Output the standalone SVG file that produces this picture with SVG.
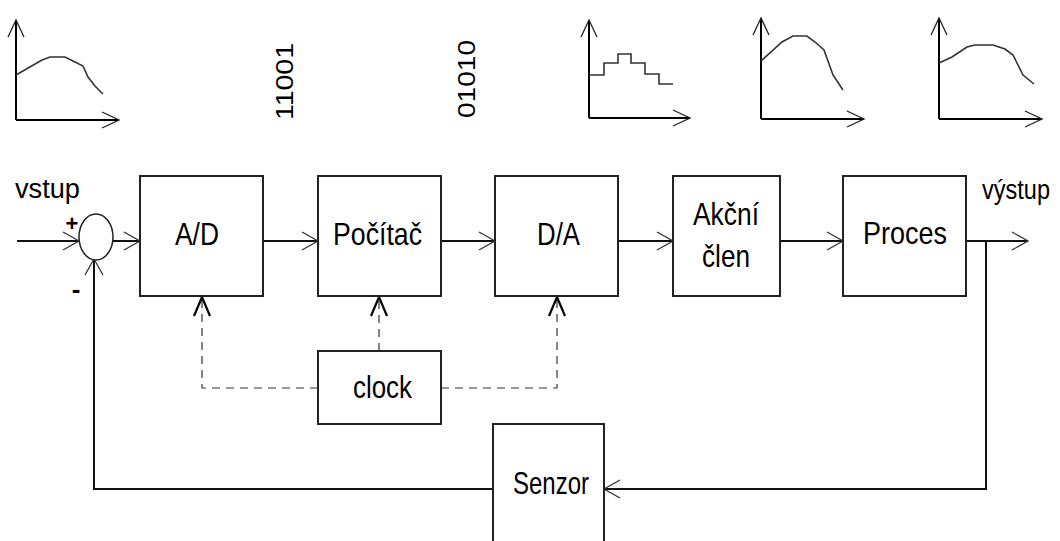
<svg xmlns="http://www.w3.org/2000/svg" width="1060" height="541" viewBox="0 0 1060 541">
<style>
.box{fill:#fff;stroke:#222;stroke-width:2}
.ln{fill:none;stroke:#111;stroke-width:2}
.dash{fill:none;stroke:#333;stroke-width:1.2;stroke-dasharray:8,6}
.ax{fill:none;stroke:#000;stroke-width:2}
.cv{fill:none;stroke:#333;stroke-width:1.6}
.lbl{font-family:"Liberation Sans",Arial,sans-serif;font-size:32px;fill:#000}
.io{font-family:"Liberation Sans",Arial,sans-serif;font-size:27px;fill:#000}
.bin{font-family:"Liberation Sans",Arial,sans-serif;font-size:24px;fill:#000}
.sg{font-family:"Liberation Sans",Arial,sans-serif;font-weight:bold;fill:#000}
</style>
<defs>
<marker id="thin" markerUnits="userSpaceOnUse" orient="auto" overflow="visible" refX="0" refY="0" markerWidth="1" markerHeight="1">
<path d="M-16,-9 L0,0 L-16,9" fill="none" stroke="#333" stroke-width="1.3"/>
</marker>
<marker id="bold" markerUnits="userSpaceOnUse" orient="auto" overflow="visible" refX="0" refY="0" markerWidth="1" markerHeight="1">
<path d="M-19,-8 L0,0 L-19,8" fill="none" stroke="#000" stroke-width="2.2"/>
</marker>
<marker id="axa" markerUnits="userSpaceOnUse" orient="auto" overflow="visible" refX="0" refY="0" markerWidth="1" markerHeight="1">
<path d="M-17,-8 L0,0 L-17,8" fill="none" stroke="#222" stroke-width="1.3"/>
</marker>
</defs>

<g id="graphs">
<g id="graph1">
<path class="ax" d="M16,120 V20" marker-end="url(#axa)"/>
<path class="ax" d="M16,120 H119" marker-end="url(#axa)"/>
<path class="cv" d="M16,75 L42,60 L50,57 L65,57 L75,62 L83,66 L88,77 L95,86 L103,94"/>
</g>
<g id="bits1"><text class="bin" transform="translate(293,120) rotate(-90)" textLength="77" lengthAdjust="spacingAndGlyphs">11001</text></g>
<g id="bits2"><text class="bin" transform="translate(475,118) rotate(-90)" textLength="78" lengthAdjust="spacingAndGlyphs">01010</text></g>
<g id="graph3">
<path class="ax" d="M589,118 V20" marker-end="url(#axa)"/>
<path class="ax" d="M589,118 H690" marker-end="url(#axa)"/>
<path class="cv" d="M589,75 H604 V63 H618 V54 H631 V63 H645 V74 H659 V84 H673"/>
</g>
<g id="graph4">
<path class="ax" d="M761,119 V18" marker-end="url(#axa)"/>
<path class="ax" d="M761,119 H864" marker-end="url(#axa)"/>
<path class="cv" d="M761,61 L782,42 L793,36 L807,36 L815,42 L824,50 L833,75 L843,90"/>
</g>
<g id="graph5">
<path class="ax" d="M939,119 V18" marker-end="url(#axa)"/>
<path class="ax" d="M939,119 H1042" marker-end="url(#axa)"/>
<path class="cv" d="M939,63 L952,57 L967,47 L975,45 L993,45 L1005,49 L1013,55 L1023,75 L1034,84"/>
</g>
</g>

<g id="connectors">
<path class="ln" d="M17,241 H79" marker-end="url(#thin)"/>
<path class="ln" d="M113,241 H140" marker-end="url(#thin)"/>
<path class="ln" d="M263,241 H318" marker-end="url(#thin)"/>
<path class="ln" d="M441,241 H495" marker-end="url(#thin)"/>
<path class="ln" d="M618,241 H673" marker-end="url(#thin)"/>
<path class="ln" d="M780,241 H843" marker-end="url(#thin)"/>
<path class="ln" d="M966,241 H1028" marker-end="url(#thin)"/>
<path class="ln" d="M986,241 V489 H604" marker-end="url(#thin)"/>
<path class="ln" d="M493,489 H94 V259" marker-end="url(#thin)"/>
<path class="dash" d="M318,388 H202 V297" marker-end="url(#bold)"/>
<path class="dash" d="M379,351 V297" marker-end="url(#bold)"/>
<path class="dash" d="M441,388 H557 V297" marker-end="url(#bold)"/>
</g>

<g id="sum">
<ellipse cx="96" cy="237" rx="17" ry="23" fill="#fff" stroke="#222" stroke-width="1.5"/>
<text class="sg" x="72" y="231" font-size="22" text-anchor="middle">+</text>
<text class="sg" x="76" y="298" font-size="26" text-anchor="middle">-</text>
</g>
<g id="vstup"><text class="io" x="15" y="198" textLength="65" lengthAdjust="spacingAndGlyphs">vstup</text></g>
<g id="vystup"><text class="io" x="982" y="199" textLength="68" lengthAdjust="spacingAndGlyphs">výstup</text></g>

<g id="ad"><rect class="box" x="140" y="176" width="123" height="120"/><text class="lbl" x="175" y="245" textLength="44" lengthAdjust="spacingAndGlyphs">A/D</text></g>
<g id="pocitac"><rect class="box" x="318" y="176" width="123" height="120"/><text class="lbl" x="333" y="245" textLength="89" lengthAdjust="spacingAndGlyphs">Počítač</text></g>
<g id="da"><rect class="box" x="495" y="176" width="123" height="120"/><text class="lbl" x="537" y="245" textLength="43" lengthAdjust="spacingAndGlyphs">D/A</text></g>
<g id="akcni"><rect class="box" x="673" y="176" width="107" height="120"/><text class="lbl" x="693" y="225" textLength="66" lengthAdjust="spacingAndGlyphs">Akční</text><text class="lbl" x="702" y="267" textLength="48" lengthAdjust="spacingAndGlyphs">člen</text></g>
<g id="proces"><rect class="box" x="843" y="176" width="123" height="120"/><text class="lbl" x="863" y="244" textLength="84" lengthAdjust="spacingAndGlyphs">Proces</text></g>
<g id="clock"><rect class="box" x="318" y="351" width="123" height="73"/><text class="lbl" x="353" y="398" textLength="59" lengthAdjust="spacingAndGlyphs">clock</text></g>
<g id="senzor"><rect class="box" x="493" y="424" width="111" height="125"/><text class="lbl" x="513" y="494" textLength="76" lengthAdjust="spacingAndGlyphs">Senzor</text></g>
</svg>
